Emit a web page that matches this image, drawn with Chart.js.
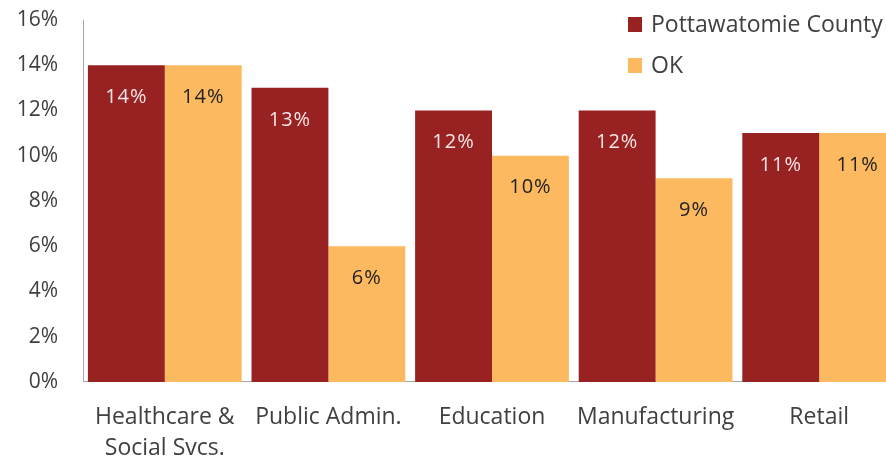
<!DOCTYPE html>
<html>
<head>
<meta charset="utf-8">
<title>Industry share</title>
<script src="https://cdn.jsdelivr.net/npm/chart.js@4.4.1/dist/chart.umd.min.js"></script>
<style>
  html, body { margin: 0; padding: 0; background: #fff; overflow: hidden; width: 886px; height: 458px; }
  #wrap { width: 901px; height: 476px; position: relative; }
</style>
</head>
<body>
<div id="wrap"><canvas id="barChart"></canvas></div>
<script>
'use strict';

// ── Data ─────────────────────────────────────────────────────
const categories   = [['Healthcare &', 'Social Svcs.'], 'Public Admin.', 'Education', 'Manufacturing', 'Retail'];
const seriesNames  = ['Pottawatomie County', 'OK'];
const countyValues = [14, 13, 12, 12, 11];
const okValues     = [14, 6, 10, 9, 11];
const yMax         = 16;
const yStep        = 2;

const RED    = '#982121';
const ORANGE = '#FDB95F';
const TEXT   = '#404040';
const FONT   = '"Open Sans", sans-serif';

// value labels inside the top of each bar
const barValueLabels = {
    id: 'barValueLabels',
    afterDatasetsDraw(chart) {
        const ctx = chart.ctx;
        ctx.save();
        ctx.font = '20px ' + FONT;
        ctx.textAlign = 'center';
        ctx.textBaseline = 'middle';
        try { ctx.letterSpacing = '1px'; } catch (e) {}
        chart.data.datasets.forEach((ds, i) => {
            const meta = chart.getDatasetMeta(i);
            ctx.fillStyle = i === 0 ? '#f4e6e6' : '#222';
            meta.data.forEach((bar, j) => {
                ctx.fillText(ds.data[j] + '%', bar.x, bar.y + 32);
            });
        });
        ctx.restore();
    }
};

// legend stacked in the top-right corner of the plot
const cornerLegend = {
    id: 'cornerLegend',
    afterDraw(chart) {
        const ctx = chart.ctx;
        ctx.save();
        ctx.font = '23px ' + FONT;
        ctx.textBaseline = 'middle';
        chart.data.datasets.forEach((ds, i) => {
            const y = 17 + i * 41;
            ctx.fillStyle = ds.backgroundColor;
            ctx.fillRect(628, y, 14, 15);
            ctx.fillStyle = TEXT;
            ctx.fillText(ds.label, 651, y + 8);
        });
        ctx.restore();
    }
};

new Chart(document.getElementById('barChart').getContext('2d'), {
    type: 'bar',
    data: {
        labels: categories,
        datasets: [
            { label: seriesNames[0], data: countyValues, backgroundColor: RED,    borderWidth: 0 },
            { label: seriesNames[1], data: okValues,     backgroundColor: ORANGE, borderWidth: 0 }
        ]
    },
    options: {
        responsive: true,
        maintainAspectRatio: false,
        animation: false,
        layout: { padding: { top: 20, right: 0, bottom: 0, left: 0 } },
        datasets: { bar: { categoryPercentage: 0.94, barPercentage: 1.0 } },
        scales: {
            x: {
                grid: { display: false, drawTicks: true, tickLength: 8 },
                border: { display: true, color: '#a6a6a6', width: 1 },
                ticks: { color: TEXT, padding: 12, maxRotation: 0, autoSkip: false,
                         font: { family: FONT, size: 23, lineHeight: 1.35 } }
            },
            y: {
                min: 0, max: yMax,
                afterFit: s => { s.width = 83; },
                grid: { display: false, drawTicks: true, tickLength: 25 },
                border: { display: true, color: '#a6a6a6', width: 1 },
                ticks: { stepSize: yStep, color: TEXT, padding: 0,
                         font: { family: FONT, size: 21 },
                         callback: v => v + '%' }
            }
        },
        plugins: { legend: { display: false }, tooltip: { enabled: false } }
    },
    plugins: [barValueLabels, cornerLegend]
});
</script>
</body>
</html>
